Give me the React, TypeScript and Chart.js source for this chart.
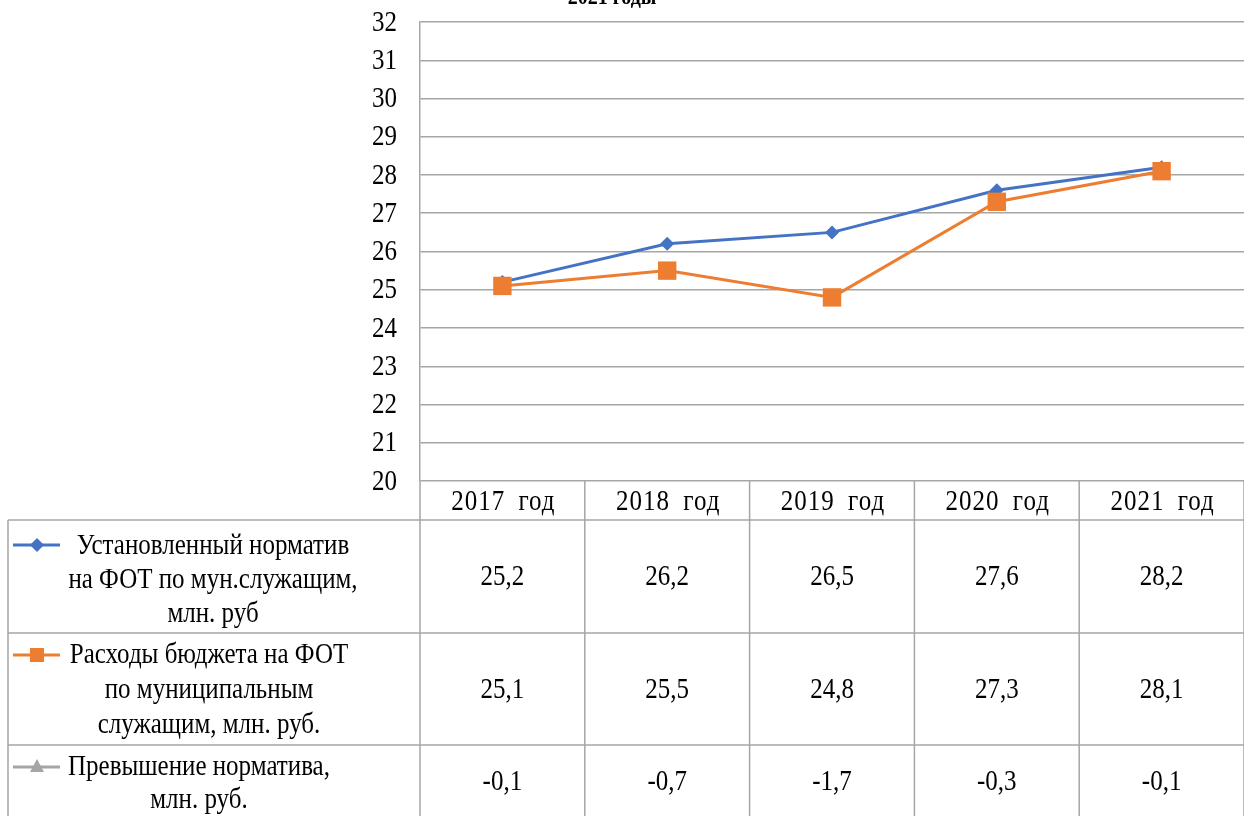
import React, { useEffect, useRef } from "react";
import { Chart, registerables } from "chart.js";

Chart.register(...registerables);

const categories = ["2017 год", "2018 год", "2019 год", "2020 год", "2021 год"];
const normValues = [25.2, 26.2, 26.5, 27.6, 28.2];
const spendValues = [25.1, 25.5, 24.8, 27.3, 28.1];
const excessValues = [-0.1, -0.7, -1.7, -0.3, -0.1];
const normLabel = ["Установленный норматив", "на ФОТ по мун.служащим,", "млн. руб"];
const spendLabel = ["Расходы бюджета на ФОТ", "по муниципальным", "служащим, млн. руб."];
const excessLabel = ["Превышение норматива,", "млн. руб."];
const titleText = "2021 годы";
const yMin = 20;
const yMax = 32;

const BLUE = "#4472C4";
const ORANGE = "#ED7D31";
const GRAY = "#A5A5A5";
const LINE = "#A6A6A6";
const FONT = "Liberation Serif";
const SY = 1.15;

const fmt = (v: number) => v.toFixed(1).replace(".", ",");

function txt(
  ctx: CanvasRenderingContext2D,
  s: string,
  x: number,
  y: number,
  align: CanvasTextAlign = "center",
  spacing = "0px",
  wordSpacing = "0px"
) {
  ctx.save();
  ctx.translate(x, y);
  ctx.scale(1, SY);
  ctx.textAlign = align;
  ctx.textBaseline = "middle";
  (ctx as any).letterSpacing = spacing;
  (ctx as any).wordSpacing = wordSpacing;
  ctx.fillText(s, 0, 0);
  ctx.restore();
}

const tablePlugin = {
  id: "dataTable",
  afterDraw(chart: any) {
    const ctx: CanvasRenderingContext2D = chart.ctx;
    const xs = chart.scales.x;
    const ys = chart.scales.y;
    const area = chart.chartArea;
    const half = (xs.getPixelForValue(1) - xs.getPixelForValue(0)) / 2;
    const top = area.bottom;
    const headerBottom = top + 39;
    const row1Bottom = headerBottom + 113;
    const row2Bottom = row1Bottom + 112;
    const tableBottom = chart.height;
    const leftEdge = 8;

    ctx.save();
    // title
    ctx.fillStyle = "#000";
    ctx.font = `bold 20px ${FONT}`;
    ctx.save();
    ctx.translate(612, 4);
    ctx.scale(1, SY);
    ctx.textAlign = "center";
    ctx.textBaseline = "alphabetic";
    ctx.fillText(titleText, 0, 0);
    ctx.restore();

    // y tick labels
    ctx.font = `25px ${FONT}`;
    ys.ticks.forEach((t: any) => {
      txt(ctx, String(t.value), area.left - 23, ys.getPixelForValue(t.value) + 1, "right");
    });

    // grid lines of the table
    ctx.strokeStyle = LINE;
    ctx.lineWidth = 1.5;
    const hLine = (x1: number, x2: number, y: number) => {
      ctx.beginPath();
      ctx.moveTo(x1, y);
      ctx.lineTo(x2, y);
      ctx.stroke();
    };
    const vLine = (x: number, y1: number, y2: number) => {
      ctx.beginPath();
      ctx.moveTo(x, y1);
      ctx.lineTo(x, y2);
      ctx.stroke();
    };
    hLine(leftEdge, area.right, headerBottom);
    hLine(leftEdge, area.right, row1Bottom);
    hLine(leftEdge, area.right, row2Bottom);
    vLine(leftEdge, headerBottom, tableBottom);
    categories.forEach((_, i) => {
      const c = xs.getPixelForValue(i);
      vLine(c - half, top, tableBottom);
      if (i === categories.length - 1) vLine(c + half, top, tableBottom);
    });

    // header + values
    ctx.fillStyle = "#000";
    ctx.font = `25px ${FONT}`;
    categories.forEach((cat, i) => {
      const c = xs.getPixelForValue(i);
      txt(ctx, cat, c + 1, (top + headerBottom) / 2 + 2, "center", "1px", "6px");
      txt(ctx, fmt(normValues[i]), c, (headerBottom + row1Bottom) / 2 + 1);
      txt(ctx, fmt(spendValues[i]), c, (row1Bottom + row2Bottom) / 2 + 1);
      txt(ctx, fmt(excessValues[i]), c, row2Bottom + 37);
    });

    // row labels
    const drawLines = (lines: string[], cx: number, y0: number, step: number) => {
      lines.forEach((l, k) => txt(ctx, l, cx, y0 + k * step));
    };
    drawLines(normLabel, 213, headerBottom + 26, 34);
    drawLines(spendLabel, 209, row1Bottom + 22, 35);
    drawLines(excessLabel, 199, row2Bottom + 22, 33);

    // legend keys
    const keyX1 = 13;
    const keyX2 = 60;
    const keyC = 37;
    const drawKeyLine = (color: string, y: number) => {
      ctx.strokeStyle = color;
      ctx.lineWidth = 3;
      ctx.beginPath();
      ctx.moveTo(keyX1, y);
      ctx.lineTo(keyX2, y);
      ctx.stroke();
      ctx.fillStyle = color;
    };
    let y = headerBottom + 25;
    drawKeyLine(BLUE, y);
    ctx.beginPath();
    ctx.moveTo(keyC, y - 7);
    ctx.lineTo(keyC + 7, y);
    ctx.lineTo(keyC, y + 7);
    ctx.lineTo(keyC - 7, y);
    ctx.closePath();
    ctx.fill();

    y = row1Bottom + 22;
    drawKeyLine(ORANGE, y);
    ctx.fillRect(keyC - 7, y - 7, 14, 14);

    y = row2Bottom + 22;
    drawKeyLine(GRAY, y);
    ctx.beginPath();
    ctx.moveTo(keyC, y - 8);
    ctx.lineTo(keyC + 7, y + 5);
    ctx.lineTo(keyC - 7, y + 5);
    ctx.closePath();
    ctx.fill();

    ctx.restore();
  },
};

export default function App() {
  const ref = useRef<HTMLCanvasElement>(null);

  useEffect(() => {
    if (!ref.current) return;
    const chart = new Chart(ref.current, {
      type: "line",
      data: {
        labels: categories,
        datasets: [
          {
            label: normLabel.join(" "),
            data: normValues,
            borderColor: BLUE,
            backgroundColor: BLUE,
            borderWidth: 3,
            pointStyle: "rectRot",
            pointRadius: 7,
            pointBorderWidth: 0,
            tension: 0,
            order: 2,
          },
          {
            label: spendLabel.join(" "),
            data: spendValues,
            borderColor: ORANGE,
            backgroundColor: ORANGE,
            borderWidth: 3,
            pointStyle: "rect",
            pointRadius: 13,
            pointBorderWidth: 0,
            tension: 0,
            order: 1,
          },
          {
            label: excessLabel.join(" "),
            data: excessValues,
            borderColor: GRAY,
            backgroundColor: GRAY,
            borderWidth: 3,
            pointStyle: "triangle",
            pointRadius: 7,
            tension: 0,
            order: 3,
          },
        ],
      },
      options: {
        responsive: false,
        animation: false,
        layout: { autoPadding: false, padding: { top: 22, left: 0, right: 0, bottom: 335 } },
        plugins: {
          legend: { display: false },
          tooltip: { enabled: false },
          title: { display: false },
        },
        scales: {
          x: {
            type: "category",
            offset: true,
            display: false,
          },
          y: {
            min: yMin,
            max: yMax,
            afterFit: (s: any) => {
              s.width = 420;
            },
            ticks: {
              stepSize: 1,
              display: false,
            },
            grid: {
              color: LINE,
              lineWidth: 1.5,
              drawTicks: false,
            },
            border: { display: true, color: LINE, width: 1.5 },
          },
        },
      },
      plugins: [tablePlugin],
    });
    return () => chart.destroy();
  }, []);

  return (
    <div style={{ position: "absolute", left: 0, top: 0, width: 1244, height: 816 }}>
      <canvas ref={ref} width={1244} height={816} />
    </div>
  );
}
